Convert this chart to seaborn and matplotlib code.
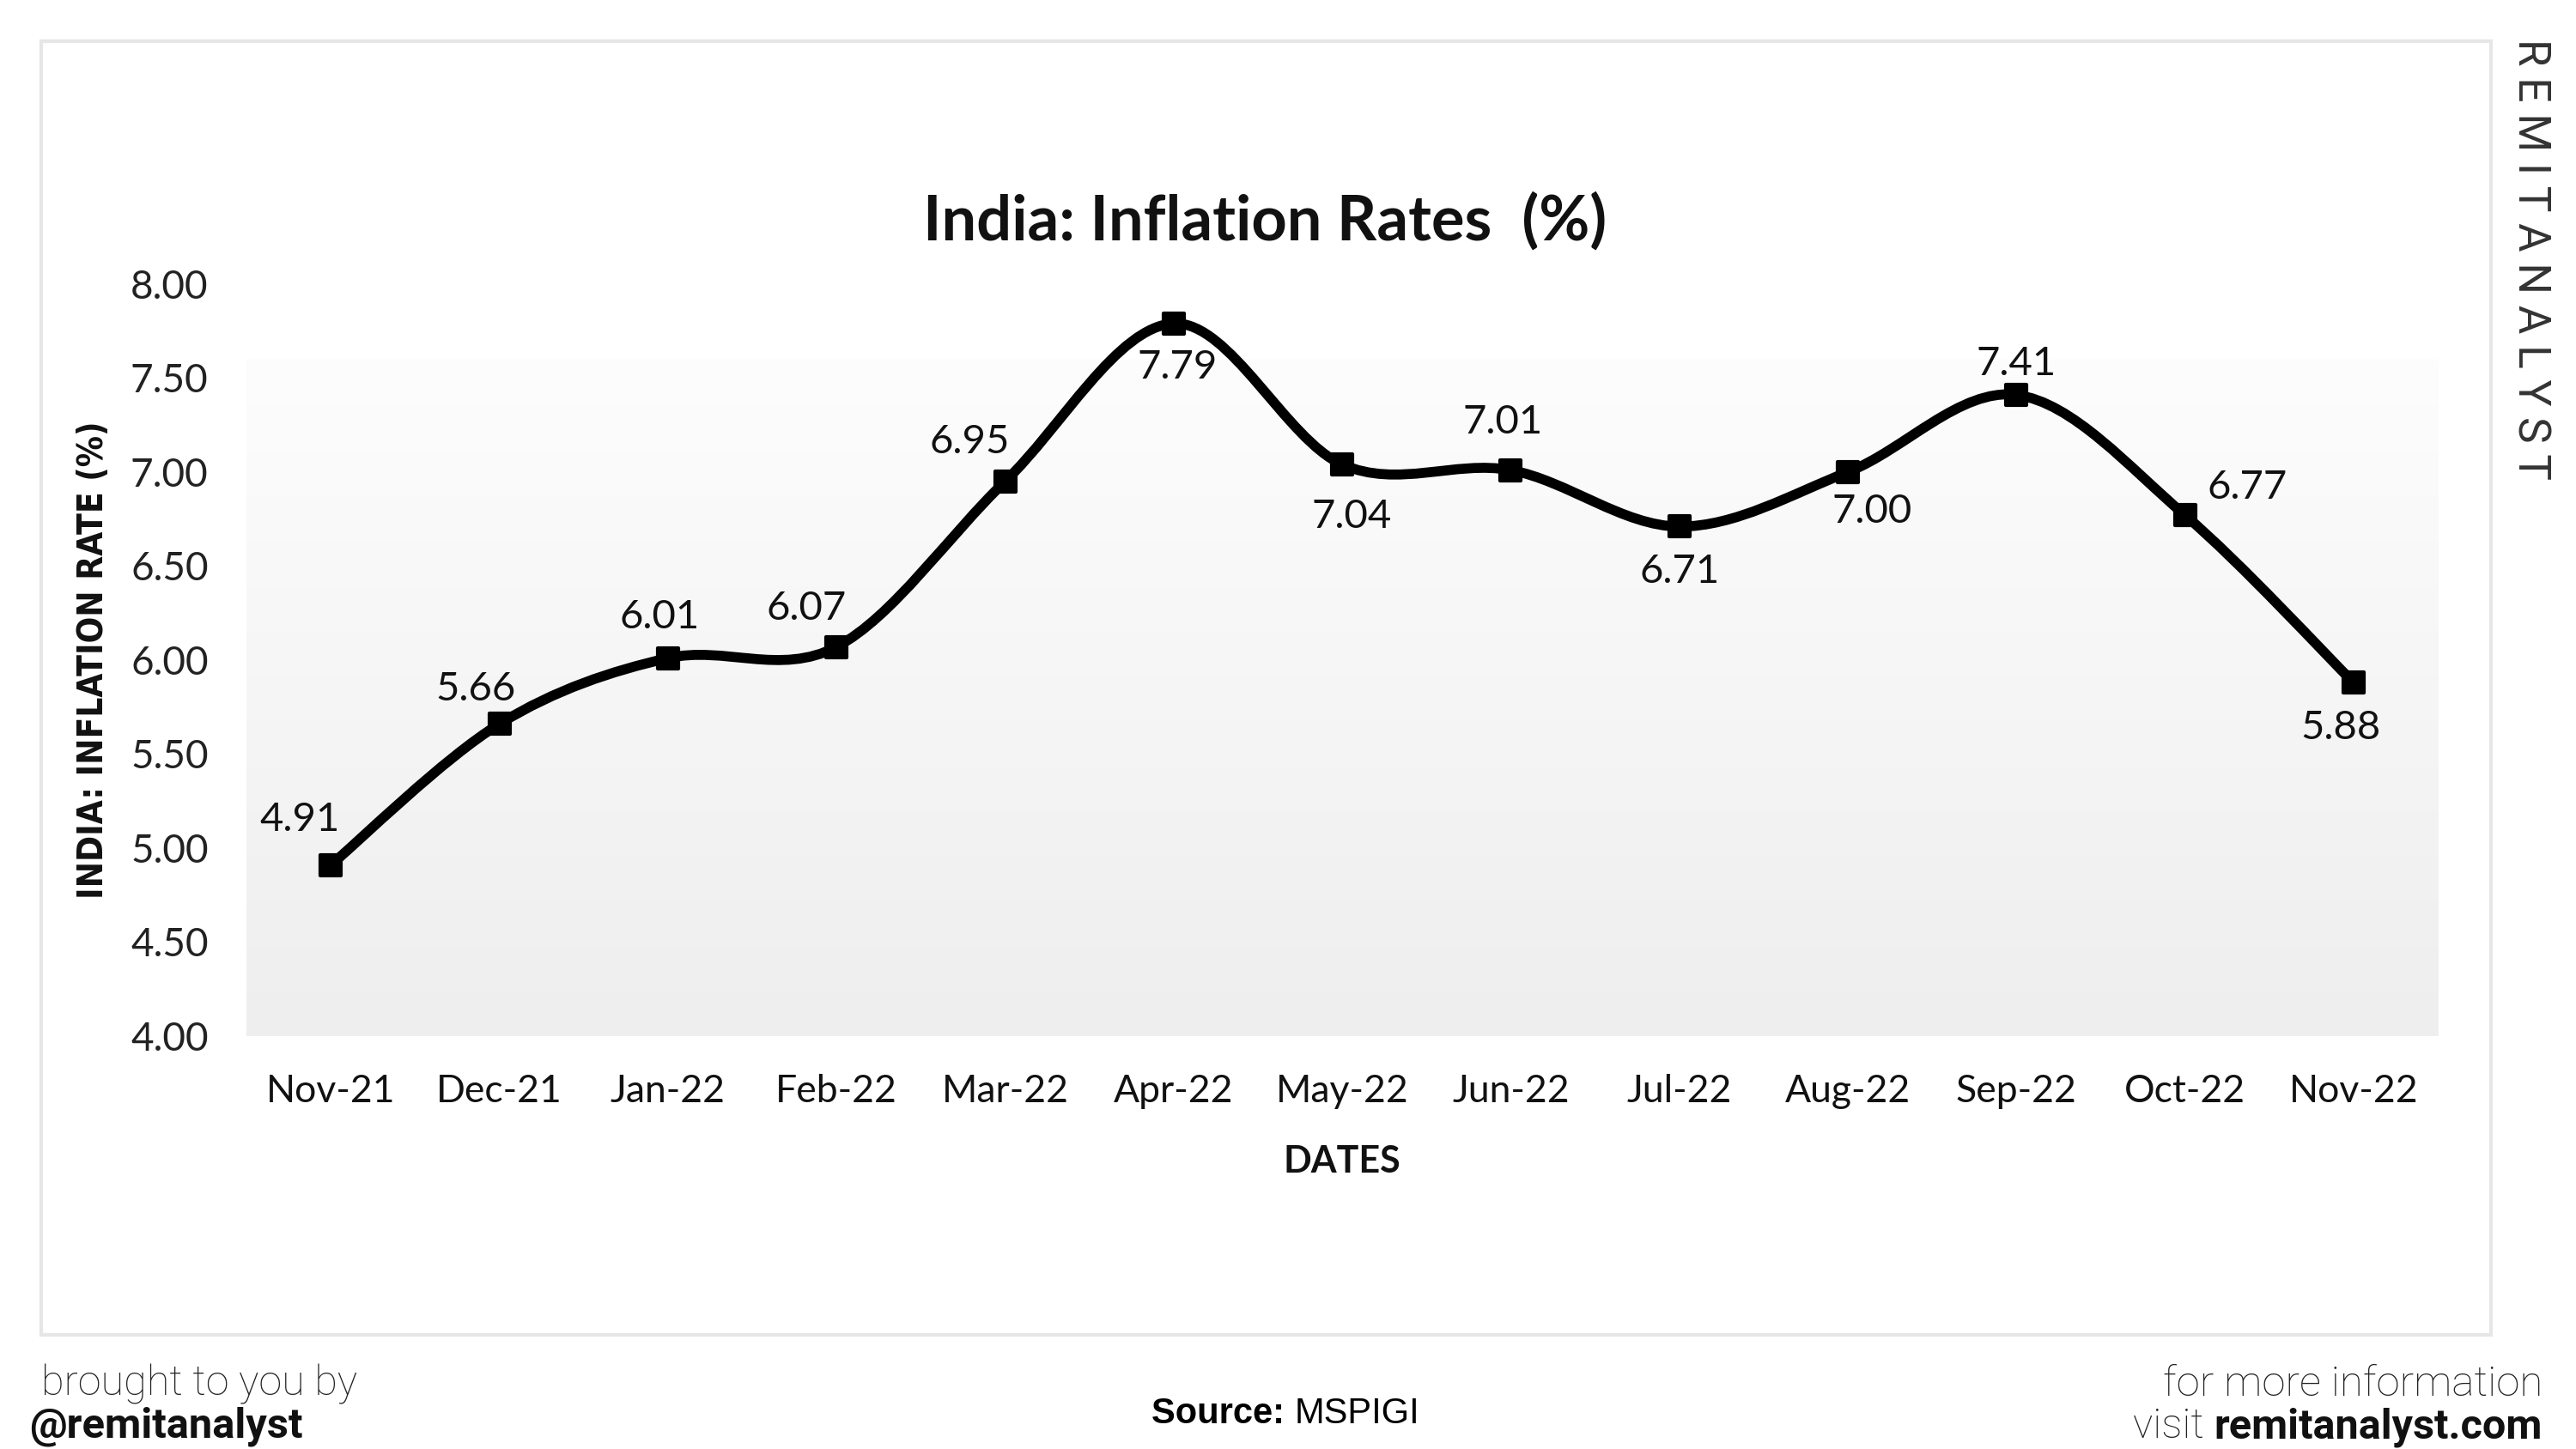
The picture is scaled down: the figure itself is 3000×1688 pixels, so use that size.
import numpy as np
import pandas as pd
import matplotlib
matplotlib.use("Agg")
import matplotlib.pyplot as plt
from matplotlib.path import Path
from matplotlib.patches import PathPatch, Rectangle
from matplotlib.colors import LinearSegmentedColormap
from matplotlib.offsetbox import TextArea, HPacker, AnchoredOffsetbox
import seaborn as sns

# ======================
# Data
# ======================
months = ["Nov-21", "Dec-21", "Jan-22", "Feb-22", "Mar-22", "Apr-22", "May-22",
          "Jun-22", "Jul-22", "Aug-22", "Sep-22", "Oct-22", "Nov-22"]
rates = [4.91, 5.66, 6.01, 6.07, 6.95, 7.79, 7.04, 7.01, 6.71, 7.00, 7.41, 6.77, 5.88]
y_ticks = [4.00, 4.50, 5.00, 5.50, 6.00, 6.50, 7.00, 7.50, 8.00]

# label offsets in points (dx, dy) relative to each point
label_offsets = [(-13, 19), (-10, 14.5), (-3.5, 17), (-12.5, 16), (-15, 16.5),
                 (1.5, -18.5), (4, -22), (-3.5, 20), (0, -19), (10, -16.5),
                 (0, 13), (26, 11.5), (-5.5, -19)]

df = pd.DataFrame({"month": months, "rate": rates})
df["pos"] = np.arange(len(df))

# ======================
# Figure setup
# ======================
sns.set_theme(style="white")
plt.rcParams["font.family"] = ["Lato", "DejaVu Sans"]

fig = plt.figure(figsize=(15, 8.44), dpi=200)
fig.patch.set_facecolor("white")

# outer light frame
fig.add_artist(Rectangle((0.016, 0.079), 0.951, 0.8926, transform=fig.transFigure,
                         fill=False, edgecolor="#e6e6e6", lw=1.5))

ax = fig.add_axes([0.0957, 0.285, 0.8507, 0.519])
ax.set_facecolor("none")

# plot area gradient (white at top -> light grey at bottom)
cmap = LinearSegmentedColormap.from_list("bg", ["#eeeeee", "#fdfdfd"])
grad = np.linspace(0, 1, 256)[:, None]
ax.imshow(grad, extent=(-0.5, 12.5, 4.0, 7.6), origin="lower", aspect="auto",
          cmap=cmap, zorder=0)

# smoothed line (bezier through the data points, like Excel's smooth line)
x = df["pos"].to_numpy(dtype=float)
y = df["rate"].to_numpy(dtype=float)
verts = [(x[0], y[0])]
codes = [Path.MOVETO]
n = len(x)
for i in range(n - 1):
    i0 = max(i - 1, 0)
    i3 = min(i + 2, n - 1)
    c1 = (x[i] + (x[i + 1] - x[i0]) / 6, y[i] + (y[i + 1] - y[i0]) / 6)
    c2 = (x[i + 1] - (x[i3] - x[i]) / 6, y[i + 1] - (y[i3] - y[i]) / 6)
    verts += [c1, c2, (x[i + 1], y[i + 1])]
    codes += [Path.CURVE4] * 3
ax.add_patch(PathPatch(Path(verts, codes), fill=False, edgecolor="black", lw=4.2,
                       capstyle="round", joinstyle="round", zorder=2))

sns.scatterplot(data=df, x="pos", y="rate", marker="s", s=80, color="black",
                edgecolor="black", linewidth=1.5, zorder=3, ax=ax, legend=False)

for (_, row), off in zip(df.iterrows(), label_offsets):
    ax.annotate(f"{row['rate']:.2f}", (row["pos"], row["rate"]), xytext=off,
                textcoords="offset points", ha="center", va="center",
                fontsize=17, color="#111111", zorder=4)

# axes styling
ax.set_xlim(-0.5, 12.5)
ax.set_ylim(4.0, 8.0)
ax.set_xticks(df["pos"], months)
ax.set_yticks(y_ticks, [f"{t:.2f}" for t in y_ticks])
ax.tick_params(axis="x", length=0, pad=16, labelsize=16, labelcolor="#111111")
ax.tick_params(axis="y", length=0, pad=16, labelsize=16.5, labelcolor="#222222")
for s in ax.spines.values():
    s.set_visible(False)
ax.grid(False)

ax.set_xlabel("DATES", fontsize=15.5, fontweight="bold", color="#111111")
ax.xaxis.set_label_coords(0.5, -0.144)
ax.set_ylabel("INDIA: INFLATION RATE (%)", fontsize=14.5, fontweight="bold",
              color="#111111", family=["DejaVu Sans"], fontstretch="condensed")
ax.yaxis.set_label_coords(-0.062, 0.5)

fig.text(0.491, 0.847, "India: Inflation Rates  (%)", ha="center", va="center",
         fontsize=26, fontweight="bold", color="#111111")

# watermark
fig.text(0.982, 0.821, "R E M I T A N A L Y S T", rotation=-90, ha="center",
         va="center", fontsize=18.5, color="#333333", family=["Roboto", "DejaVu Sans"],
         fontweight="normal")

# footer
foot_font = ["Roboto", "DejaVu Sans"]
fig.text(0.016, 0.0445, "brought to you by", ha="left", va="center", fontsize=17.5,
         color="#222222", family=foot_font, fontweight="light")
fig.text(0.0115, 0.0154, "@remitanalyst", ha="left", va="center", fontsize=17.6,
         color="#111111", family=foot_font, fontweight="bold")
fig.text(0.987, 0.0445, "for more information", ha="right", va="center", fontsize=17.8,
         color="#222222", family=foot_font, fontweight="light")

visit = HPacker(children=[
    TextArea("visit ", textprops=dict(fontsize=17.5, color="#222222", family=foot_font,
                                      fontweight="light")),
    TextArea("remitanalyst.com", textprops=dict(fontsize=17.5, color="#111111",
                                                family=foot_font, fontweight="bold")),
], align="baseline", pad=0, sep=0)
fig.add_artist(AnchoredOffsetbox(loc="center right", child=visit, pad=0, borderpad=0,
                                 frameon=False, bbox_to_anchor=(0.987, 0.0154),
                                 bbox_transform=fig.transFigure))

src_font = ["Liberation Sans", "DejaVu Sans"]
source = HPacker(children=[
    TextArea("Source: ", textprops=dict(fontsize=15, color="black", family=src_font,
                                        fontweight="bold")),
    TextArea("MSPIGI", textprops=dict(fontsize=15, color="black", family=src_font)),
], align="baseline", pad=0, sep=0)
fig.add_artist(AnchoredOffsetbox(loc="center", child=source, pad=0, borderpad=0,
                                 frameon=False, bbox_to_anchor=(0.499, 0.024),
                                 bbox_transform=fig.transFigure))

fig.savefig("out.png", dpi=200, facecolor="white")
